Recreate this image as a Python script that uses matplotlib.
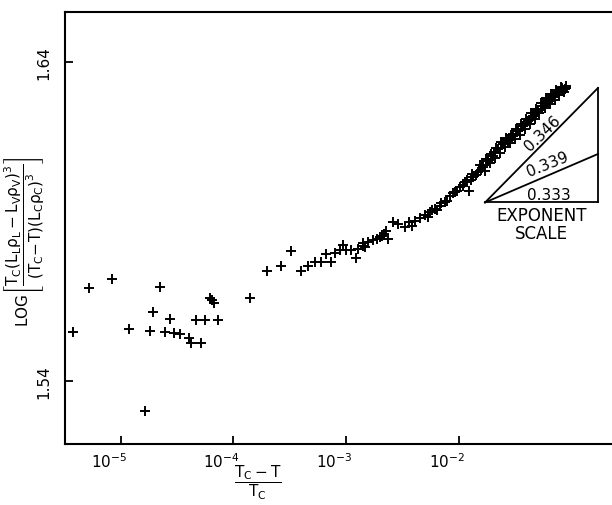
import numpy as np
import matplotlib.pyplot as plt
from matplotlib.transforms import ScaledTranslation

plt.rcParams['mathtext.default'] = 'regular'

# reduced temperature (Tc-T)/Tc and log of the scaled quantity
x_sparse = [3.75e-6, 5.26e-6, 8.37e-6, 1.19e-5, 1.81e-5, 1.94e-5, 2.23e-5, 1.64e-5,
            2.72e-5, 2.47e-5, 2.97e-5, 3.36e-5, 4.01e-5, 4.18e-5, 5.19e-5, 4.63e-5,
            5.64e-5, 7.35e-5, 6.19e-5, 6.41e-5, 6.77e-5, 1.41e-4]
y_sparse = [1.5554, 1.5691, 1.5719, 1.5564, 1.5555, 1.5616, 1.5693, 1.5306,
            1.5593, 1.5554, 1.5550, 1.5547, 1.5534, 1.5518, 1.5517, 1.5590,
            1.5592, 1.5590, 1.5659, 1.5654, 1.5644, 1.5659]

x_mid = [2.00e-4, 2.63e-4, 3.25e-4, 3.96e-4, 4.62e-4, 5.30e-4, 5.95e-4, 7.30e-4,
         6.63e-4, 7.97e-4, 8.83e-4, 9.33e-4, 9.98e-4, 1.10e-3, 1.22e-3, 1.28e-3,
         1.40e-3, 1.47e-3, 1.57e-3, 1.72e-3, 1.87e-3, 2.00e-3, 2.17e-3, 2.26e-3,
         2.37e-3, 1.42e-3, 2.07e-3]
y_mid = [1.5743, 1.5760, 1.5808, 1.5743, 1.5759, 1.5771, 1.5773, 1.5771,
         1.5799, 1.5802, 1.5811, 1.5825, 1.5811, 1.5811, 1.5784, 1.5813,
         1.5832, 1.5818, 1.5836, 1.5842, 1.5846, 1.5850, 1.5860, 1.5870,
         1.5844, 1.5823, 1.5853]

x_upper = [2.62e-3, 2.90e-3, 3.33e-3, 3.64e-3, 3.82e-3, 4.08e-3, 4.53e-3, 5.01e-3,
           5.55e-3, 6.15e-3, 6.81e-3, 7.55e-3, 8.36e-3, 9.25e-3, 1.03e-2, 1.14e-2,
           1.24e-2, 1.35e-2, 1.49e-2, 1.65e-2, 1.83e-2, 2.02e-2, 2.24e-2, 2.48e-2,
           2.75e-2, 3.05e-2, 3.37e-2, 3.73e-2, 4.14e-2, 4.58e-2, 5.07e-2, 5.62e-2,
           6.22e-2, 6.85e-2, 7.59e-2, 8.40e-2, 8.75e-2]
y_upper = [1.5897, 1.5891, 1.5881, 1.5897, 1.5886, 1.5902, 1.5909, 1.5919,
           1.5928, 1.5940, 1.5949, 1.5959, 1.5980, 1.5991, 1.6006, 1.6022,
           1.5996, 1.6038, 1.6053, 1.6069, 1.6090, 1.6105, 1.6126, 1.6142,
           1.6152, 1.6168, 1.6184, 1.6199, 1.6215, 1.6231, 1.6246, 1.6262,
           1.6275, 1.6289, 1.6302, 1.6308, 1.6314]

# extra points in the dense band
x_band = [5.3e-3, 5.8e-3, 6.4e-3, 7.0e-3, 7.9e-3, 8.8e-3, 9.7e-3, 1.08e-2, 1.18e-2,
          1.28e-2, 1.42e-2, 1.57e-2, 1.55e-2, 1.70e-2, 1.75e-2, 1.90e-2, 1.95e-2,
          2.10e-2, 2.15e-2, 2.30e-2, 2.35e-2, 2.55e-2, 2.60e-2, 2.85e-2, 2.90e-2,
          3.15e-2, 3.20e-2, 3.50e-2, 3.55e-2, 3.85e-2, 3.95e-2, 4.25e-2, 4.35e-2,
          4.70e-2, 4.85e-2, 5.20e-2, 5.40e-2, 5.80e-2, 6.00e-2, 6.40e-2, 6.60e-2,
          7.10e-2, 7.30e-2, 7.80e-2, 8.10e-2, 8.60e-2, 9.00e-2,
          1.10e-2, 1.32e-2, 1.60e-2, 1.80e-2, 2.05e-2, 2.40e-2, 2.70e-2, 3.00e-2,
          3.30e-2, 3.65e-2, 4.05e-2, 4.50e-2, 4.95e-2, 5.50e-2, 6.10e-2, 6.80e-2,
          7.50e-2, 8.30e-2, 8.90e-2]
y_band = [1.5915, 1.5935, 1.5935, 1.5958, 1.5965, 1.5990, 1.5995, 1.6015, 1.6030,
          1.6028, 1.6045, 1.6060, 1.6075, 1.6058, 1.6095, 1.6082, 1.6112,
          1.6098, 1.6131, 1.6115, 1.6148, 1.6132, 1.6160, 1.6145, 1.6172,
          1.6158, 1.6188, 1.6172, 1.6205, 1.6190, 1.6222, 1.6205, 1.6238,
          1.6222, 1.6252, 1.6238, 1.6270, 1.6255, 1.6285, 1.6268, 1.6298,
          1.6280, 1.6312, 1.6295, 1.6320, 1.6305, 1.6318,
          1.6010, 1.6048, 1.6078, 1.6092, 1.6118, 1.6150, 1.6158, 1.6175,
          1.6182, 1.6200, 1.6212, 1.6228, 1.6245, 1.6260, 1.6280, 1.6292,
          1.6305, 1.6318, 1.6325]

# exponent scale triangle: apex and right-hand ends of the lines
exponents = ['0.346', '0.339', '0.333']
tri_x0, tri_x1 = 0.0171, 0.172
tri_y0 = 1.5959
tri_y_ends = [1.6318, 1.6111, 1.5959]

x_all = x_sparse + x_mid + x_upper + x_band
y_all = y_sparse + y_mid + y_upper + y_band

fig = plt.figure(figsize=(6.12, 5.06), dpi=100)
ax = fig.add_axes([65 / 612, 1 - 445 / 506, 1 - 65 / 612, (445 - 13) / 506])

ax.plot(x_all, y_all, '+', color='black', markersize=6.5, markeredgewidth=1.4)

for y1 in tri_y_ends:
    ax.plot([tri_x0, tri_x1], [tri_y0, y1], color='black', lw=1.3)
ax.plot([tri_x1, tri_x1], [tri_y0, tri_y_ends[0]], color='black', lw=1.3)

fs = 11
ax.text(0.055, 1.6178, exponents[0], rotation=44, ha='center', va='center', fontsize=fs)
ax.text(0.062, 1.6080, exponents[1], rotation=22, ha='center', va='center', fontsize=fs)
ax.text(0.063, 1.5985, exponents[2], ha='center', va='center', fontsize=fs)
ax.text(0.054, 1.5920, 'EXPONENT', ha='center', va='center', fontsize=12)
ax.text(0.054, 1.5862, 'SCALE', ha='center', va='center', fontsize=12)

ax.set_xscale('log')
ax.set_xlim(3.2e-6, 0.229)
ax.set_ylim(1.5202, 1.6556)
ax.set_xticks([1e-5, 1e-4, 1e-3, 1e-2])
ax.set_xticklabels([r'$10^{-5}$', r'$10^{-4}$', r'$10^{-3}$', r'$10^{-2}$'])
ax.minorticks_off()
ax.set_yticks([1.54, 1.64])
ax.set_yticklabels(['1.54', '1.64'], rotation=90, va='center')
ax.tick_params(axis='both', direction='in', length=6, width=1.3, labelsize=11)
ax.tick_params(axis='x', pad=5)
ax.tick_params(axis='y', pad=10)
off = ScaledTranslation(-12 / 100, 0, fig.dpi_scale_trans)
for lab in ax.get_xticklabels():
    lab.set_transform(lab.get_transform() + off)

ax.spines['right'].set_visible(False)
for s in ['left', 'bottom', 'top']:
    ax.spines[s].set_linewidth(1.5)

fig.text(258 / 612, 1 - 483 / 506, r'$\dfrac{T_C - T}{T_C}$', ha='center', va='center', fontsize=11)
fig.text(25 / 612, 1 - 242 / 506,
         r'LOG$\left[\dfrac{T_C(L_L\rho_L - L_V\rho_V)^3}{(T_C\!-\!T)(L_C\rho_C)^3}\right]$',
         rotation=90, ha='center', va='center', fontsize=11)

fig.savefig('out.png', dpi=100)
